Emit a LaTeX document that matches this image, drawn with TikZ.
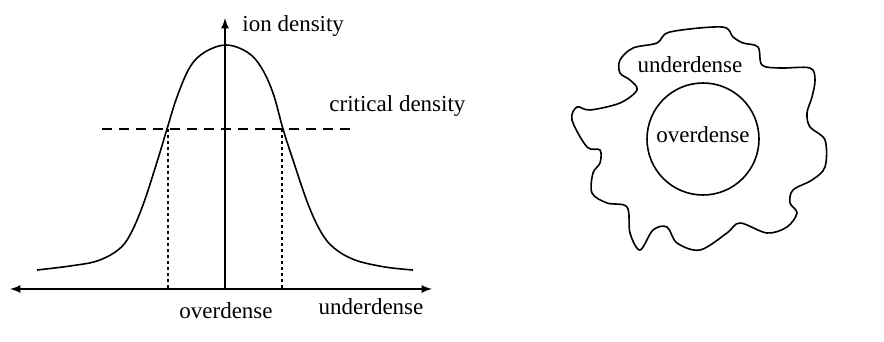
\documentclass[tikz,border=0pt]{standalone}
\usepackage{fontspec}
\setmainfont{Liberation Serif}
\usepackage{tikz}
\usetikzlibrary{arrows.meta, calc}

\begin{document}
\begin{tikzpicture}[x=0.5pt, y=-0.5pt,
    label text/.style={font=\fontsize{11.5}{13}\selectfont, inner sep=1pt}]
\useasboundingbox (0,0) rectangle (884,342);
% axes
\coordinate (xl) at (10,289);
\coordinate (xr) at (432,289);
\coordinate (o) at (225,289);
\coordinate (top) at (225,18);
\draw[latex-latex, thick] (xl) -- (xr);
\draw[-latex, thick] (o) -- (top);
% ion density profile
\draw[thick] plot[smooth, tension=0.6] coordinates {
  (37,270) (70,266) (97,261) (118,250) (130,235) (143,205) (157,162)
  (167,129) (177,97) (190,67) (205,52) (226,45) (247,52) (261,67)
  (273,93) (283,129) (293,160) (308,204) (321,232) (334,248)
  (355,260) (385,267) (413,270)};
% critical density
\coordinate (cl) at (102,129);
\coordinate (cr) at (350,129);
\draw[thick, dash pattern=on 5pt off 3.5pt] (cl) -- (cr);
\foreach \x/\n in {168/a, 282/b} {
  \coordinate (d\n) at (\x,129);
  \coordinate (e\n) at (\x,289);
  \draw[thick, dash pattern=on 1.5pt off 1.5pt] (d\n) -- (e\n);
}
\node[label text, anchor=west] (ion) at (240,26) {ion density};
\node[label text, anchor=west] (crit) at (327,106) {critical density};
\node[label text] (over) at (226,311) {overdense};
\node[label text] (under) at (371,307) {underdense};
% right picture
\draw[thick] plot[smooth cycle, tension=0.55] coordinates {
  (670,32) (722,27) (733,37) (743,43) (758,47) (762,65) (780,68)
  (810,68) (815,80) (812,97) (807,113) (810,127) (825,140) (825,167)
  (812,180) (793,190) (790,203) (797,213) (787,227) (767,233)
  (740,223) (727,233) (700,250) (677,243) (667,227) (653,230)
  (640,250) (630,233) (627,207) (607,203) (592,193) (593,173)
  (600,163) (600,150) (587,147) (572,120) (577,107) (590,110)
  (620,103) (637,90) (630,80) (620,73) (620,60) (633,48) (657,43)};
\draw[thick] (703,139) circle[radius=56];
\node[label text] (inner) at (703,135) {overdense};
\node[label text] (outer) at (690,65) {underdense};
\end{tikzpicture}
\end{document}
